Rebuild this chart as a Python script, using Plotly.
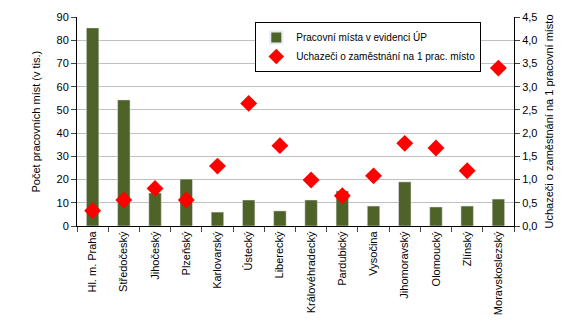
import plotly.graph_objects as go

# data
kraje = ["Hl. m. Praha", "Středočeský", "Jihočeský", "Plzeňský", "Karlovarský",
         "Ústecký", "Liberecký", "Královéhradecký", "Pardubický", "Vysočina",
         "Jihomoravský", "Olomoucký", "Zlínský", "Moravskoslezský"]
mista = [85.3, 54.3, 14.2, 20.2, 6.0, 11.2, 6.5, 11.2, 15.1, 8.6, 19.0, 8.2, 8.6, 11.6]
uchazeci = [0.33, 0.56, 0.81, 0.56, 1.29, 2.64, 1.73, 0.99, 0.65, 1.08, 1.78, 1.68, 1.19, 3.40]

font = dict(family="Liberation Sans, Arial", size=11, color="black")

fig = go.Figure()
fig.add_trace(go.Bar(x=kraje, y=mista, name="Pracovní místa v evidenci ÚP",
                     marker_color="#4F6228", width=0.4))
fig.add_trace(go.Scatter(x=kraje, y=uchazeci, name="Uchazeči o zaměstnání na 1 prac. místo",
                         mode="markers", yaxis="y2",
                         marker=dict(symbol="diamond", size=13, color="#FF0000")))

# page body has an 8px margin, so the figure is a bit smaller than the window
fig.update_layout(
    width=566, height=323,
    margin=dict(l=69, r=60, t=9, b=105, autoexpand=False),
    paper_bgcolor="white", plot_bgcolor="white",
    font=font,
    separators=",.",
    showlegend=True,
    legend=dict(x=0.408, y=0.976, xanchor="left", yanchor="top",
                bordercolor="black", borderwidth=1, bgcolor="white",
                font=dict(size=10), itemsizing="constant", itemwidth=30,
                tracegroupgap=0),
    xaxis=dict(range=[-0.5, len(kraje) - 0.5], showline=True, linecolor="black",
               ticks="outside", tickson="boundaries",
               ticklen=5, tickangle=-90, tickfont=dict(size=11), automargin=False),
    yaxis=dict(range=[0, 90], dtick=10, showline=True, linecolor="black",
               ticks="outside", ticklen=5, gridcolor="#C0C0C0", automargin=False),
    yaxis2=dict(range=[0, 4.5], dtick=0.5, tickformat=".1f", overlaying="y", side="right",
                showline=True, linecolor="black", ticks="outside", ticklen=5, showgrid=False,
                automargin=False),
    annotations=[
        dict(text="Počet pracovních míst (v tis.)", xref="paper", yref="paper",
             x=-0.096, y=0.5, textangle=-90, showarrow=False, font=dict(size=11),
             xanchor="center", yanchor="middle"),
        dict(text="Uchazeči o zaměstnání na 1 pracovní místo", xref="paper", yref="paper",
             x=1.08, y=0.5, textangle=-90, showarrow=False, font=dict(size=11),
             xanchor="center", yanchor="middle"),
    ],
)

fig.write_html("out.html")
